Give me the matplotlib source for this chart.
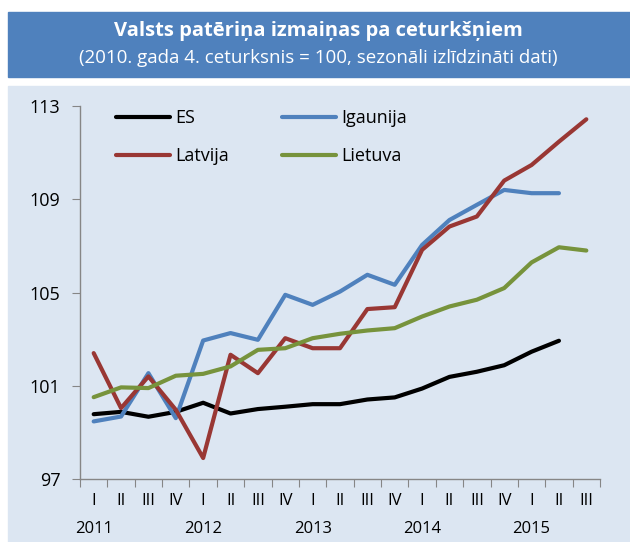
import matplotlib
matplotlib.use("Agg")
import matplotlib.pyplot as plt
from matplotlib.patches import Rectangle
import numpy as np

plt.rcParams['font.family'] = ['Open Sans', 'DejaVu Sans']

# dati (2010. gada 4. ceturksnis = 100)
ceturksni = ['I', 'II', 'III', 'IV'] * 4 + ['I', 'II', 'III']
gadi = ['2011', '2012', '2013', '2014', '2015']
es = [99.78, 99.88, 99.67, 99.88, 100.27, 99.81, 100.0, 100.1, 100.21, 100.21,
      100.41, 100.5, 100.88, 101.38, 101.6, 101.88, 102.46, 102.93]
igaunija = [99.47, 99.68, 101.54, 99.61, 102.94, 103.26, 102.97, 104.9, 104.47, 105.04,
            105.76, 105.33, 107.04, 108.11, 108.76, 109.4, 109.26, 109.26]
latvija = [102.4, 100.04, 101.4, 99.97, 97.9, 102.33, 101.54, 103.04, 102.61, 102.61,
           104.29, 104.37, 106.83, 107.83, 108.26, 109.8, 110.47, 111.47, 112.43]
lietuva = [100.51, 100.93, 100.9, 101.43, 101.51, 101.83, 102.54, 102.61, 103.04, 103.23,
           103.37, 103.47, 103.97, 104.4, 104.69, 105.19, 106.29, 106.94, 106.8]

W, H = 630, 542
fig = plt.figure(figsize=(W / 100, H / 100), dpi=100)

# virsraksta josla un fona panelis
fig.patches.append(Rectangle((8 / W, 1 - 77 / H), 1 - 8 / W, 65 / H,
                             transform=fig.transFigure, color='#4F81BD', zorder=-2))
fig.patches.append(Rectangle((8 / W, 0), 1 - 8 / W, 1 - 86 / H,
                             transform=fig.transFigure, color='#DCE6F2', zorder=-2))
fig.text(318 / W, 1 - 31 / H, 'Valsts patēriņa izmaiņas pa ceturkšņiem',
         ha='center', va='center', color='white', fontsize=14.5, fontweight='bold')
fig.text(318 / W, 1 - 58 / H, '(2010. gada 4. ceturksnis = 100, sezonāli izlīdzināti dati)',
         ha='center', va='center', color='white', fontsize=13.5)

ax = fig.add_axes([80 / W, 1 - 479 / H, 520 / W, 373 / H])
ax.patch.set_alpha(0)

lw = 3
x = np.arange(len(ceturksni))
l_es, = ax.plot(x[:len(es)], es, color='black', lw=lw, solid_capstyle='round', label='ES')
l_ig, = ax.plot(x[:len(igaunija)], igaunija, color='#4F81BD', lw=lw, solid_capstyle='round', label='Igaunija')
l_lv, = ax.plot(x[:len(latvija)], latvija, color='#993734', lw=lw, solid_capstyle='round', label='Latvija')
l_lt, = ax.plot(x[:len(lietuva)], lietuva, color='#77933C', lw=lw, solid_capstyle='round', label='Lietuva')

ax.set_xlim(-0.5, len(ceturksni) - 0.5)
ax.set_ylim(97, 113)
ax.set_yticks([97, 101, 105, 109, 113])
ax.tick_params(axis='y', labelsize=13, length=6, color='#868686', pad=8)

ax.set_xticks(np.arange(-0.5, len(ceturksni)), labels=[])
ax.set_xticks(x, labels=ceturksni, minor=True)
ax.tick_params(axis='x', which='major', length=6, color='#868686')
ax.tick_params(axis='x', which='minor', length=0, labelsize=12, pad=10)
for i, g in enumerate(gadi):
    ax.text(i * 4, -0.135, g, transform=ax.get_xaxis_transform(),
            ha='center', va='center', fontsize=12)

for s in ['top', 'right']:
    ax.spines[s].set_visible(False)
for s in ['left', 'bottom']:
    ax.spines[s].set_color('#868686')
    ax.spines[s].set_linewidth(1)

# leģenda: rindās ES, Igaunija / Latvija, Lietuva
ax.legend([l_es, l_lv, l_ig, l_lt], ['ES', 'Latvija', 'Igaunija', 'Lietuva'],
          ncol=2, loc='upper left', bbox_to_anchor=(0.069, 0.992), frameon=False,
          borderpad=0, borderaxespad=0, fontsize=13, handlelength=3.0,
          handletextpad=0.3, columnspacing=2.9, labelspacing=1.1)

fig.savefig('out.png', dpi=100)
